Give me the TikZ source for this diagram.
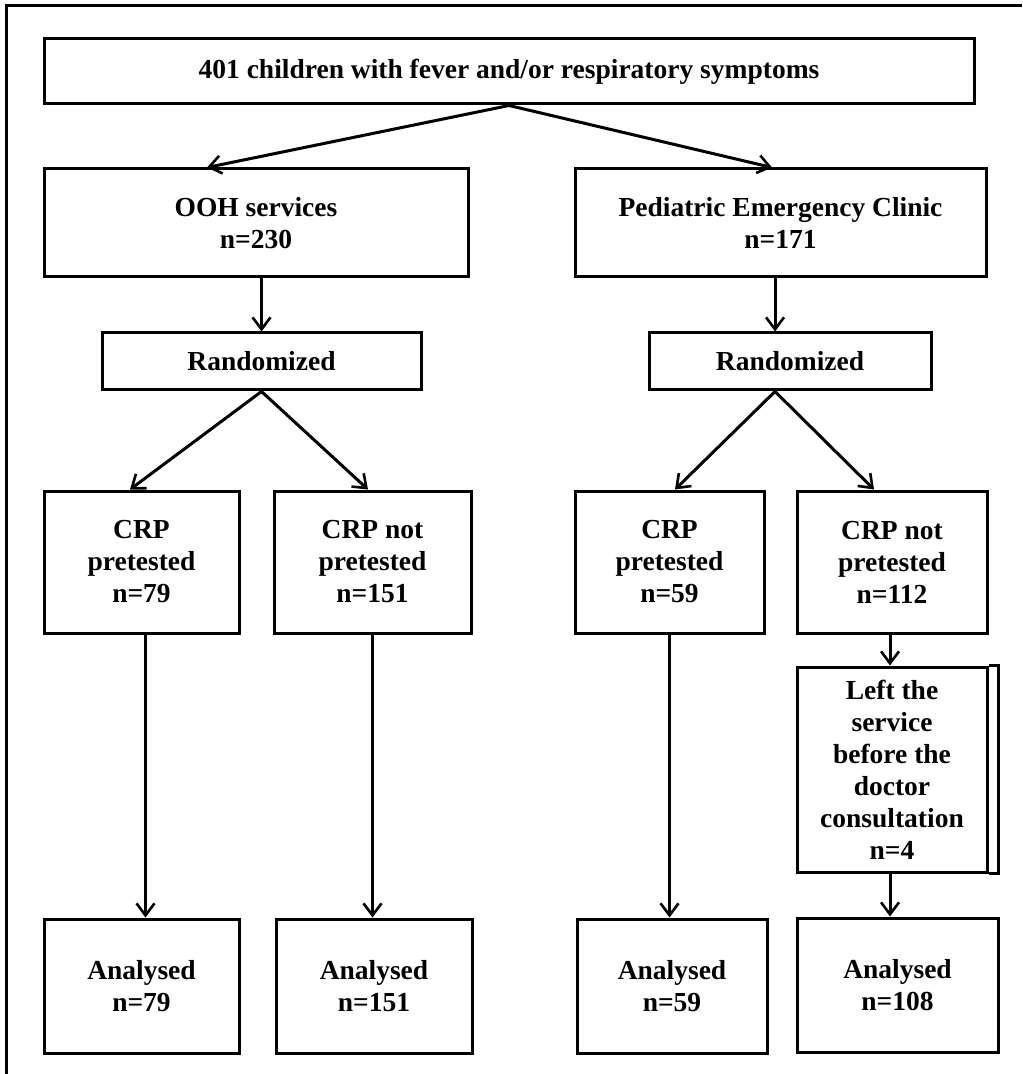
\documentclass[tikz,border=0pt]{standalone}
\usepackage{fontspec}
\setmainfont{Liberation Serif}
\usepackage{tikz}
\usetikzlibrary{arrows.meta,calc}

\begin{document}
\begin{tikzpicture}[x=0.5pt,y=-0.5pt,
  box/.style={draw,line width=1.5pt,inner sep=0pt,align=center,
    font=\fontsize{13.75pt}{16pt}\selectfont\bfseries},
  flow/.style={line width=1.5pt,-{Straight Barb[length=6pt,width=9pt,line width=1.3pt]}}]
\useasboundingbox (0,0) rectangle (1022,1074);
\draw[line width=1.5pt] (6,1074) -- (6,6) -- (1022,6);
\node[box,minimum width=465pt,minimum height=32.5pt] (top) at (509,71.5)
  {401 children with fever and/or respiratory symptoms};
\node[box,minimum width=212pt,minimum height=54pt] (ooh) at (256,223)
  {OOH services\\n=230};
\node[box,minimum width=205.5pt,minimum height=54pt] (pec) at (780.5,223)
  {Pediatric Emergency Clinic\\n=171};
\node[box,minimum width=159.5pt,minimum height=28.5pt] (randA) at (261.5,361.5)
  {Randomized};
\node[box,minimum width=141pt,minimum height=28.5pt] (randB) at (790,361.5)
  {Randomized};
\node[box,minimum width=97.5pt,minimum height=71pt] (crpA) at (141.5,562)
  {CRP\\pretested\\n=79};
\node[box,minimum width=98.5pt,minimum height=71pt] (nocrpA) at (372.5,562)
  {CRP not\\pretested\\n=151};
\node[box,minimum width=94.5pt,minimum height=71pt] (crpB) at (669.5,562)
  {CRP\\pretested\\n=59};
\node[box,minimum width=95pt,minimum height=71pt] (nocrpB) at (892,562)
  {CRP not\\pretested\\n=112};
\node[box,minimum width=95pt,minimum height=102.5pt] (left) at (892,769.5)
  {Left the\\service\\before the\\doctor\\consultation\\n=4};
\draw[line width=1.5pt] (left.north east) -- ++(10,0) |- (left.south east);
\node[box,minimum width=97.5pt,minimum height=67pt] (anA) at (141.5,986)
  {Analysed\\n=79};
\node[box,minimum width=98pt,minimum height=67pt] (anB) at (374,986)
  {Analysed\\n=151};
\node[box,minimum width=95pt,minimum height=67pt] (anC) at (672,986)
  {Analysed\\n=59};
\node[box,minimum width=100.5pt,minimum height=67pt] (anD) at (897.5,985)
  {Analysed\\n=108};
\draw[flow] (top.south) -- ([xshift=-24.5pt]ooh.north);
\draw[flow] (top.south) -- ([xshift=-4.25pt]pec.north);
\draw[flow] (randA.north |- ooh.south) -- (randA.north);
\draw[flow] ([xshift=-7.5pt]randB.north |- pec.south) -- ([xshift=-7.5pt]randB.north);
\draw[flow] (randA.south) -- ([xshift=-5.75pt]crpA.north);
\draw[flow] (randA.south) -- ([xshift=-2.25pt]nocrpA.north);
\draw[flow] ([xshift=-7.5pt]randB.south) -- ([xshift=2.75pt]crpB.north);
\draw[flow] ([xshift=-7.5pt]randB.south) -- ([xshift=-9pt]nocrpB.north);
\draw[flow] ([xshift=2pt]crpA.south) -- ([xshift=2pt]crpA.south |- anA.north);
\draw[flow] (nocrpA.south) -- (nocrpA.south |- anB.north);
\draw[flow] (crpB.south) -- (crpB.south |- anC.north);
\draw[flow] ([xshift=-1pt]nocrpB.south) -- ([xshift=-1pt]left.north);
\draw[flow] ([xshift=-1pt]left.south) -- ([xshift=-1pt]left.south |- anD.north);
\end{tikzpicture}
\end{document}
